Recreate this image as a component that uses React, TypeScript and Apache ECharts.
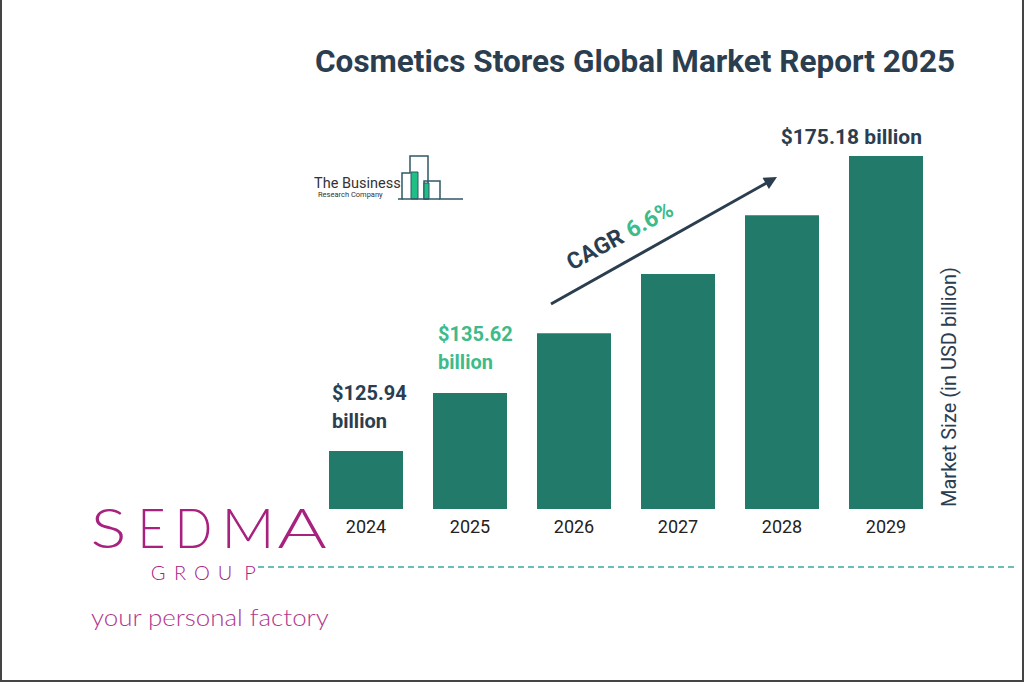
import React, { useEffect, useRef } from "react";
import * as echarts from "echarts";

const years = ["2024", "2025", "2026", "2027", "2028", "2029"];
const marketSize = [125.94, 135.62, 145.6, 155.5, 165.3, 175.18];
const titleText = "Cosmetics Stores Global Market Report 2025";
const axisName = "Market Size (in USD billion)";
const cagrLabel = "CAGR";
const cagrValue = "6.6%";
const sedmaLetters = ["S", "E", "D", "M", "A"];
const sedmaX = [108.5, 151.5, 193.5, 248, 302];
const sedmaScale = [1.2, 0.85, 0.88, 1.05, 1.35];
const groupLetters = ["G", "R", "O", "U", "P"];
const groupX = [158, 180, 202, 225, 250];

const NAVY = "#2b3e50";
const GREEN = "#3dbb8a";
const BAR = "#217a6a";
const MAGENTA = "#a8217f";

export default function App() {
  const ref = useRef<HTMLDivElement>(null);
  useEffect(() => {
    document.body.style.margin = "0";
    const chart = echarts.init(ref.current!, null, { renderer: "svg" });
    const labelBase = {
      show: true,
      fontFamily: "Roboto",
      fontWeight: "bold",
      fontSize: 20,
      lineHeight: 28,
    };
    const data = marketSize.map((v, i) => {
      if (i === 0)
        return {
          value: v,
          label: { ...labelBase, color: NAVY, formatter: "${c}\nbillion", position: [3, -16], align: "left", verticalAlign: "bottom" },
        };
      if (i === 1)
        return {
          value: v,
          label: { ...labelBase, color: GREEN, formatter: "${c}\nbillion", position: [5, -17], align: "left", verticalAlign: "bottom" },
        };
      if (i === marketSize.length - 1)
        return {
          value: v,
          label: { ...labelBase, fontSize: 21, color: NAVY, formatter: "${c} billion", position: [73, -5], align: "right", verticalAlign: "bottom" },
        };
      return { value: v };
    });

    const ux = 0.869, uy = -0.494;
    const tip = [777, 177];
    const base = [tip[0] - 13 * ux, tip[1] - 13 * uy];
    const nx = 0.494, ny = 0.869;

    const graphic: any[] = [
      { type: "text", x: 315, y: 61, style: { text: titleText, fill: NAVY, font: "bold 31.5px Roboto", verticalAlign: "middle" } },
      // arrow
      { type: "line", shape: { x1: 551, y1: 304, x2: base[0] + 2 * ux, y2: base[1] + 2 * uy }, style: { stroke: NAVY, lineWidth: 3 } },
      {
        type: "polygon",
        shape: { points: [tip, [base[0] + 6.5 * nx, base[1] + 6.5 * ny], [base[0] - 6.5 * nx, base[1] - 6.5 * ny]] },
        style: { fill: NAVY },
      },
      {
        type: "text",
        x: 620,
        y: 236,
        rotation: 0.5,
        style: {
          text: "{a|" + cagrLabel + "}  {b|" + cagrValue + "}",
          align: "center",
          verticalAlign: "middle",
          rich: {
            a: { font: "bold 23px Roboto", fill: NAVY },
            b: { font: "bold 23px Roboto", fill: GREEN },
          },
        },
      },
      // axis name
      {
        type: "text",
        x: 949,
        y: 387,
        rotation: Math.PI / 2,
        style: { text: axisName, fill: NAVY, font: "20px Roboto", align: "center", verticalAlign: "middle" },
      },
      // TBRC logo
      { type: "text", x: 314, y: 183, style: { text: "The Business", fill: "#333", font: "14.5px Roboto", verticalAlign: "middle" } },
      { type: "text", x: 318, y: 194, style: { text: "Research Company", fill: "#333", font: "7.5px Roboto", verticalAlign: "middle" } },
      {
        type: "polyline",
        shape: { points: [[398, 199], [402, 199], [402, 173], [410, 173], [410, 156], [428, 156], [428, 199], [424, 199], [424, 181], [440, 181], [440, 199], [463, 199]] },
        style: { stroke: "#2f5866", lineWidth: 1.5, fill: "none" },
      },
      { type: "rect", shape: { x: 411, y: 172, width: 7, height: 27 }, style: { fill: "#1fbf85", stroke: "#2f5866", lineWidth: 1 } },
      { type: "rect", shape: { x: 424, y: 183, width: 5, height: 16 }, style: { fill: "#1fbf85", stroke: "#2f5866", lineWidth: 1 } },
      { type: "line", shape: { x1: 402, y1: 199, x2: 440, y2: 199 }, style: { stroke: "#2f5866", lineWidth: 1.5 } },
      // dashed line
      { type: "line", shape: { x1: 258, y1: 567, x2: 1018, y2: 567 }, style: { stroke: "#3aa9a0", lineWidth: 1.5, lineDash: [6, 4] } },
      // SEDMA texts
      ...sedmaLetters.map((l, i) => ({
        type: "text",
        x: sedmaX[i],
        y: 526,
        scaleX: sedmaScale[i],
        style: { text: l, fill: MAGENTA, font: "300 56px Lato", align: "center", verticalAlign: "middle" },
      })),
      ...groupLetters.map((l, i) => ({
        type: "text",
        x: groupX[i],
        y: 572,
        style: { text: l, fill: MAGENTA, font: "300 20px Lato", align: "center", verticalAlign: "middle" },
      })),
      {
        type: "text",
        x: 91,
        y: 616,
        scaleX: 1.08,
        style: { text: "your personal factory", fill: "#b0388c", font: "300 24px Lato", verticalAlign: "middle" },
      },
      // border
      { type: "line", shape: { x1: 1, y1: 0, x2: 1, y2: 682 }, style: { stroke: "#444", lineWidth: 2 } },
      { type: "line", shape: { x1: 1023, y1: 0, x2: 1023, y2: 682 }, style: { stroke: "#444", lineWidth: 2 } },
      { type: "line", shape: { x1: 0, y1: 681, x2: 1024, y2: 681 }, style: { stroke: "#444", lineWidth: 2 } },
    ];

    chart.setOption({
      animation: false,
      backgroundColor: "#fff",
      grid: { left: 314, right: 86, top: 156, bottom: 173, containLabel: false },
      xAxis: {
        type: "category",
        data: years,
        axisLine: { show: false },
        axisTick: { show: false },
        axisLabel: { color: "#222", fontFamily: "Roboto", fontSize: 18, margin: 8 },
      },
      yAxis: { type: "value", min: 116.26, max: 175.18, show: false },
      series: [
        {
          type: "bar",
          data,
          barWidth: 74,
          itemStyle: { color: BAR },
        },
      ],
      graphic,
    });
    return () => chart.dispose();
  }, []);
  return <div ref={ref} style={{ width: 1024, height: 682, position: "absolute", left: 0, top: 0 }} />;
}
